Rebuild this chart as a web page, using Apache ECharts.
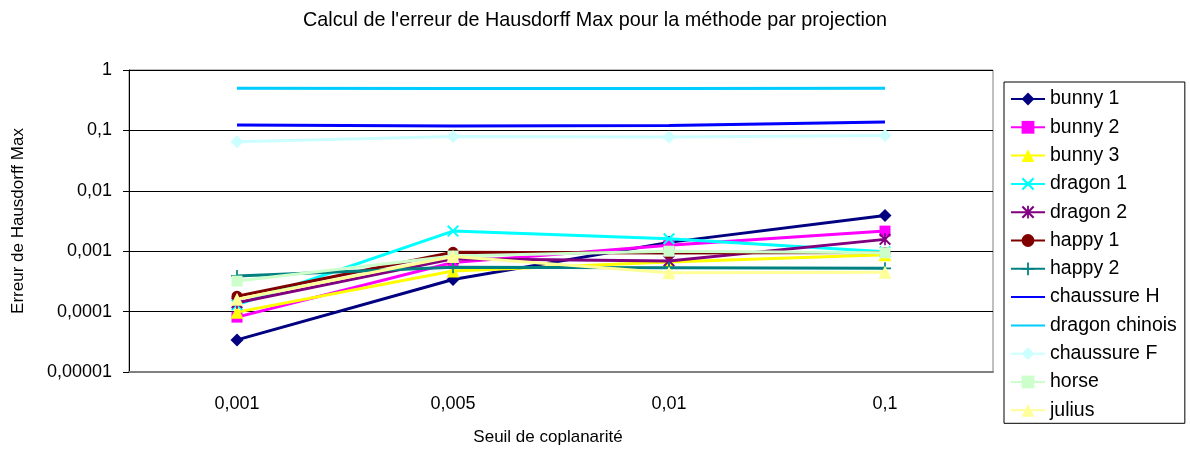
<!DOCTYPE html>
<html>
<head>
<meta charset="utf-8">
<script src="https://cdn.jsdelivr.net/npm/echarts@6/dist/echarts.min.js"></script>
<style>html,body{margin:0;padding:0;background:#fff;}#c{width:1190px;height:451px;}</style>
</head>
<body>
<div id="c"></div>
<script>
const categories = ['0,001', '0,005', '0,01', '0,1'];
const yTickValues = [0.00001, 0.0001, 0.001, 0.01, 0.1, 1];
const yTickLabels = ['0,00001', '0,0001', '0,001', '0,01', '0,1', '1'];

const bunny1 = [0.000034, 0.00034, 0.0014, 0.0039];
const bunny2 = [0.000081, 0.00065, 0.00125, 0.00215];
const bunny3 = [0.000098, 0.00047, 0.00066, 0.00087];
const dragon1 = [0.00013, 0.00215, 0.0016, 0.00098];
const dragon2 = [0.00014, 0.00075, 0.00069, 0.00157];
const happy1 = [0.00018, 0.00096, 0.00093, 0.00095];
const happy2 = [0.00039, 0.00054, 0.00053, 0.00052];
const chaussureH = [0.123, 0.118, 0.12, 0.138];
const dragonChinois = [0.5, 0.495, 0.495, 0.5];
const chaussureF = [0.065, 0.079, 0.078, 0.082];
const horse = [0.00032, 0.00083, 0.001, 0.00094];
const julius = [0.00016, 0.00082, 0.00044, 0.00045];

const seriesNames = ['bunny 1','bunny 2','bunny 3','dragon 1','dragon 2','happy 1','happy 2','chaussure H','dragon chinois','chaussure F','horse','julius'];
const seriesData = [bunny1,bunny2,bunny3,dragon1,dragon2,happy1,happy2,chaussureH,dragonChinois,chaussureF,horse,julius];
const seriesColors = ['#000080','#FF00FF','#FFFF00','#00FFFF','#800080','#800000','#008080','#0000FF','#00CCFF','#CCFFFF','#CCFFCC','#FFFF99'];

const X_PATH = 'path://M0,1.2L1.2,0L5,3.8L8.8,0L10,1.2L6.2,5L10,8.8L8.8,10L5,6.2L1.2,10L0,8.8L3.8,5Z';
const PLUS_PATH = 'path://M4.3,0H5.7V4.3H10V5.7H5.7V10H4.3V5.7H0V4.3H4.3Z';
const STAR_PATH = 'path://M0,1.2L1.2,0L5,3.8L8.8,0L10,1.2L6.2,5L10,8.8L8.8,10L5,6.2L1.2,10L0,8.8L3.8,5Z M4.3,0H5.7V10H4.3Z';
const symbols = ['diamond','rect','triangle',X_PATH,STAR_PATH,'circle',PLUS_PATH,'none','none','diamond','rect','triangle'];
const symbolSizes = [13,11,13,12,12,11,12,0,0,13,11,13];

const series = seriesNames.map((n, i) => ({
  name: n,
  type: 'line',
  data: seriesData[i],
  symbol: symbols[i],
  symbolSize: symbolSizes[i],
  showSymbol: symbols[i] !== 'none',
  color: seriesColors[i],
  lineStyle: { color: seriesColors[i], width: 3 },
  itemStyle: { color: seriesColors[i] },
  emphasis: { disabled: true },
  animation: false,
  z: 2 + i
}));

const legendData = seriesNames.map((n, i) => symbols[i] === 'none'
  ? { name: n, itemStyle: { opacity: 0 } }
  : { name: n });

const chart = echarts.init(document.getElementById('c'), null, { renderer: 'canvas' });
const FONT = 'Liberation Sans, Arial, sans-serif';
chart.setOption({
  backgroundColor: '#ffffff',
  animation: false,
  textStyle: { fontFamily: FONT, color: '#000' },
  title: {
    text: "Calcul de l'erreur de Hausdorff Max pour la méthode par projection",
    left: 590, top: 6, textAlign: 'center',
    textStyle: { fontFamily: FONT, fontSize: 19.8, fontWeight: 'normal', color: '#000' }
  },
  legend: {
    orient: 'vertical',
    left: 1004, top: 82,
    padding: [7, 8, 3, 6],
    itemGap: 8.3,
    itemWidth: 34, itemHeight: 16,
    borderColor: '#000', borderWidth: 1,
    textStyle: { fontFamily: FONT, fontSize: 19.5, color: '#000', lineHeight: 19 },
    data: legendData
  },
  grid: {
    left: 129, right: 197, top: 70, bottom: 78,
    show: true, borderColor: '#808080', borderWidth: 1,
    containLabel: false
  },
  xAxis: {
    type: 'category',
    data: categories,
    boundaryGap: true,
    name: 'Seuil de coplanarité',
    nameLocation: 'middle',
    nameGap: 57,
    nameTextStyle: { fontFamily: FONT, fontSize: 17, color: '#000', padding: [0, 26, 0, 0] },
    axisLine: { lineStyle: { color: '#808080', width: 2 } },
    axisTick: { show: false },
    axisLabel: { fontFamily: FONT, fontSize: 18, color: '#000', margin: 23 },
    splitLine: { show: false }
  },
  yAxis: {
    type: 'log',
    logBase: 10,
    min: yTickValues[0],
    max: yTickValues[yTickValues.length - 1],
    name: 'Erreur de Hausdorff Max',
    nameLocation: 'middle',
    nameGap: 102,
    nameTextStyle: { fontFamily: FONT, fontSize: 17, color: '#000' },
    axisLine: { show: true, lineStyle: { color: '#000', width: 1 } },
    axisTick: { show: true, inside: false, length: 6, lineStyle: { color: '#000' } },
    axisLabel: {
      fontFamily: FONT, fontSize: 18, color: '#000', margin: 17,
      formatter: function (v) {
        let best = 0, bd = Infinity;
        for (let k = 0; k < yTickValues.length; k++) {
          const d = Math.abs(Math.log10(v) - Math.log10(yTickValues[k]));
          if (d < bd) { bd = d; best = k; }
        }
        return yTickLabels[best];
      }
    },
    splitLine: { show: true, lineStyle: { color: '#000', width: 1 } }
  },
  series: series
});
</script>
</body>
</html>
